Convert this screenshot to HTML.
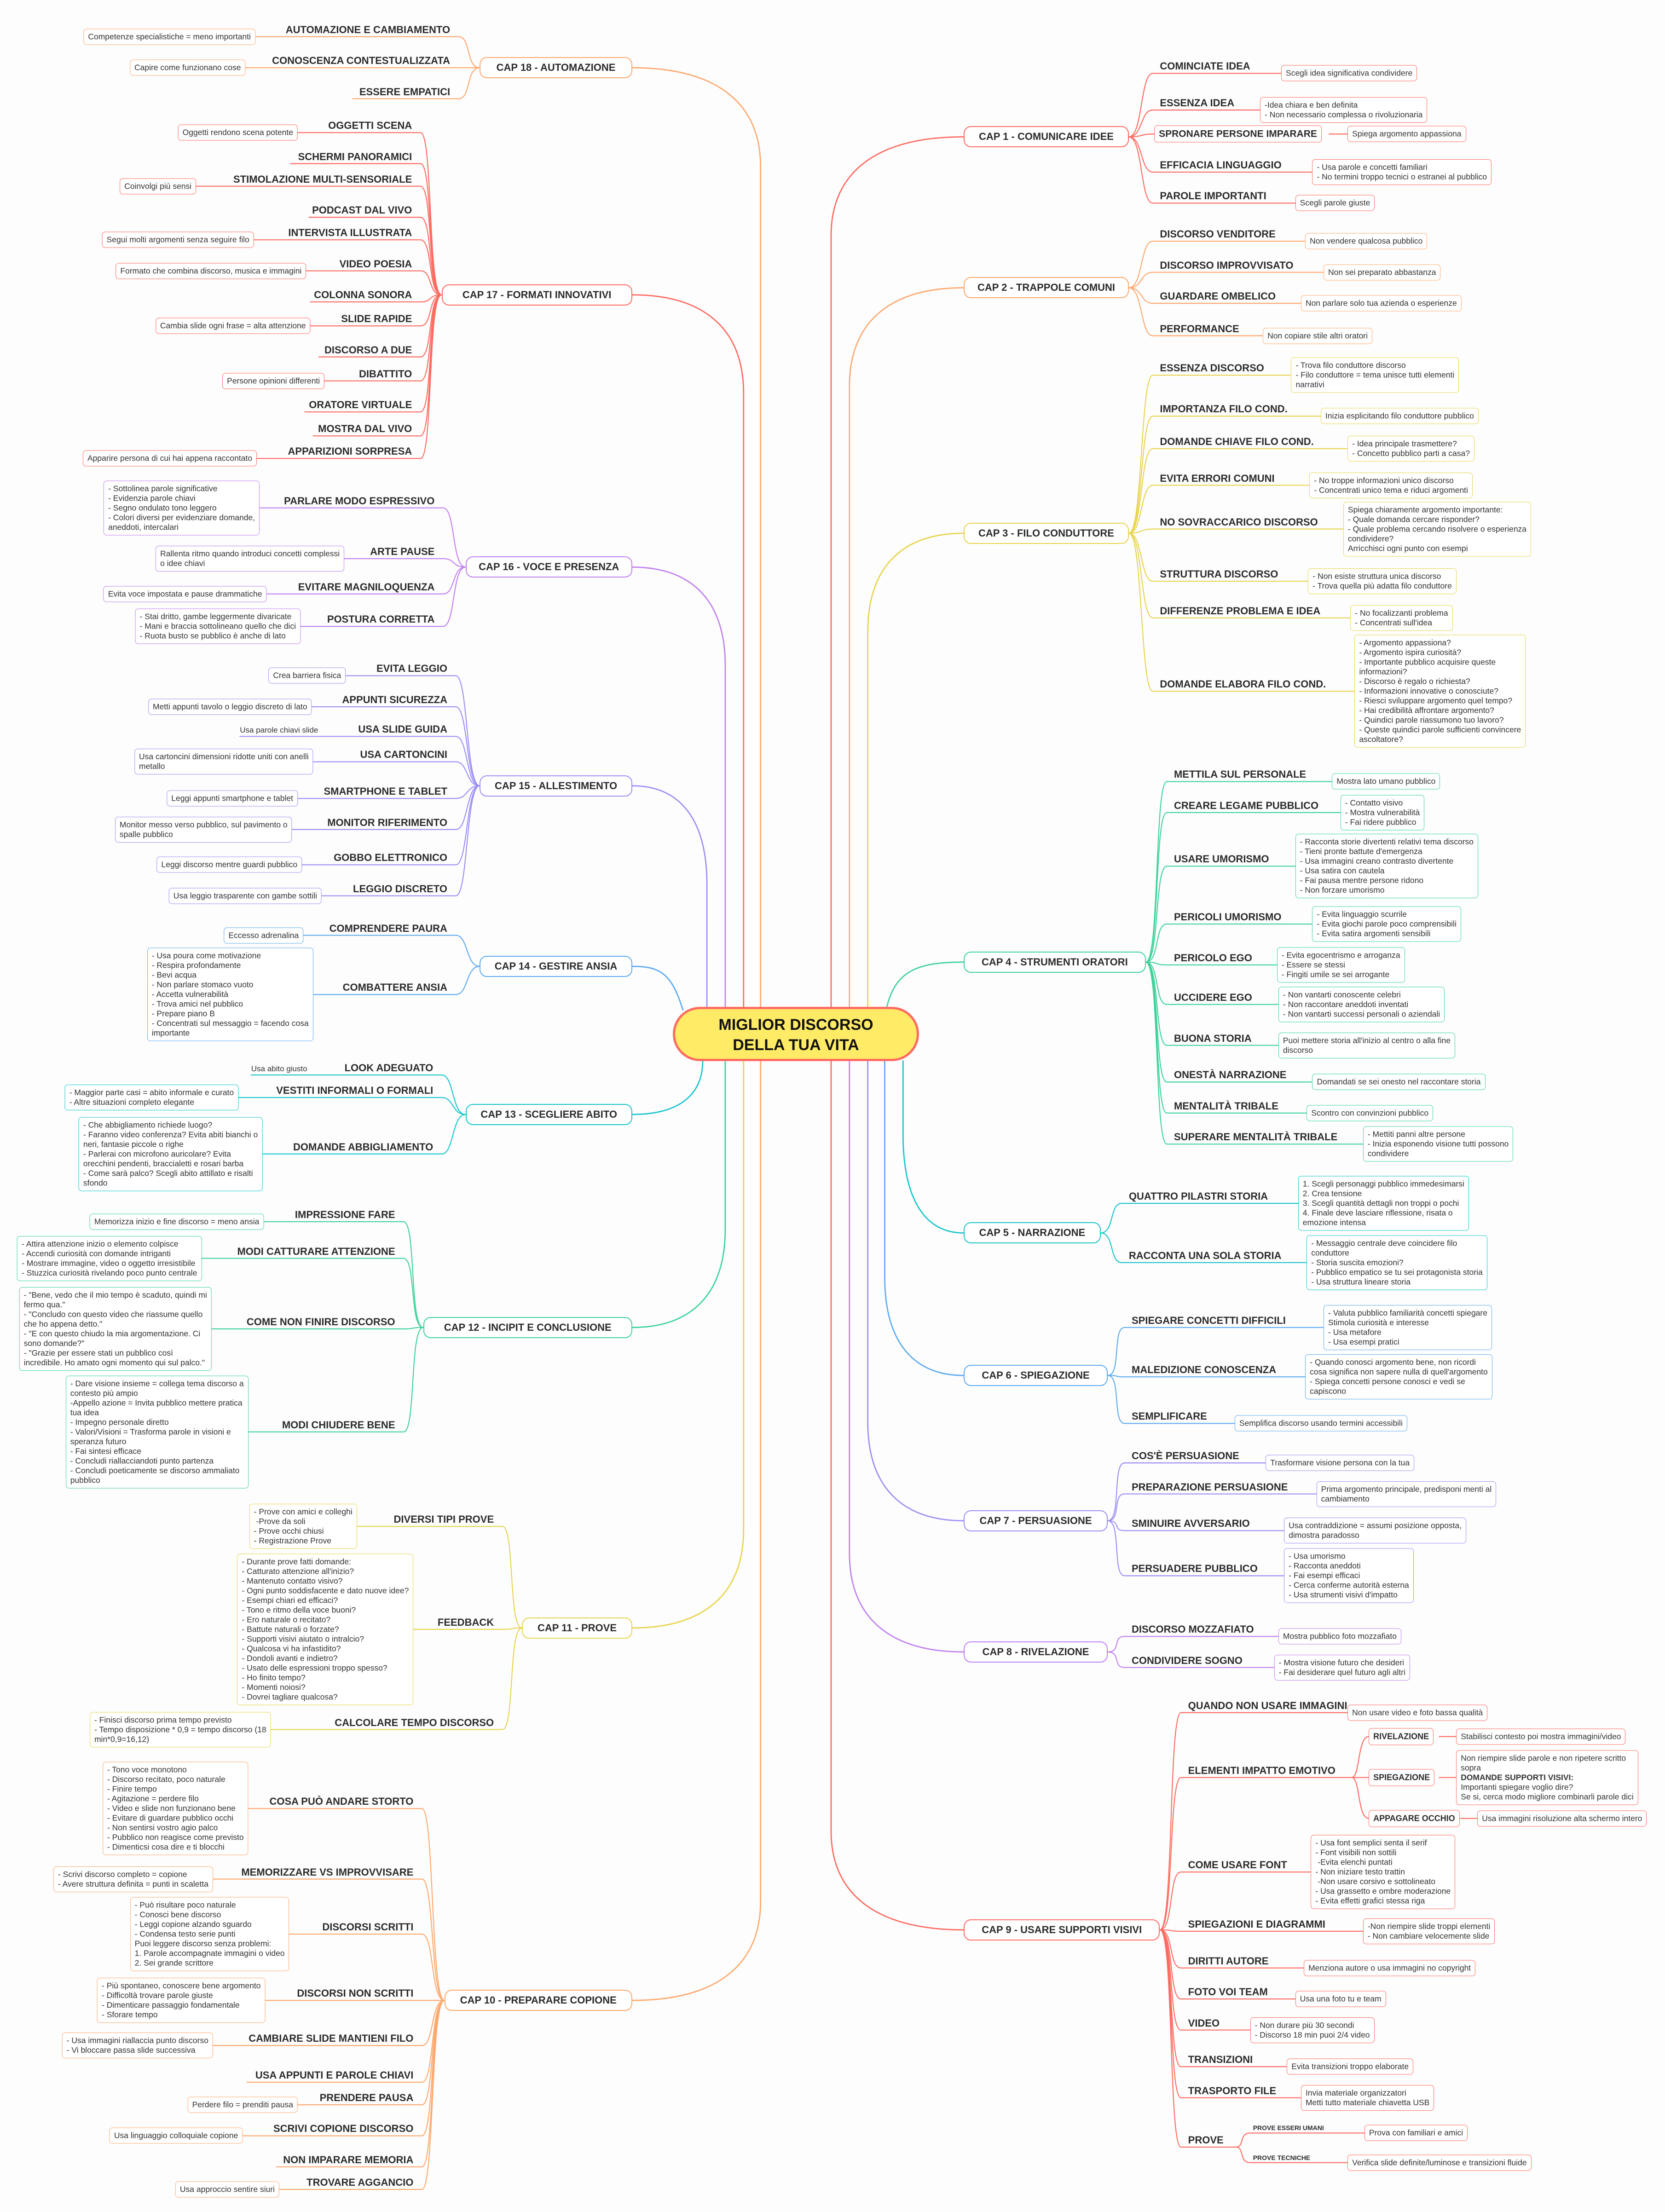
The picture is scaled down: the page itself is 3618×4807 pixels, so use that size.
<!DOCTYPE html>
<html><head><meta charset="utf-8">
<style>
body{margin:0;background:#fdfdfd}
#c{position:relative;width:3618px;height:4807px;background:#fdfdfd;overflow:hidden;font-family:"Liberation Sans",sans-serif;color:#333}
svg{position:absolute;left:0;top:0}
.a{position:absolute;left:calc(var(--x)*3.0661px);top:calc(var(--y)*3.0657px);white-space:nowrap}
.lf{border:1.8px solid var(--c);border-radius:7px;background:#fff;font-size:17.5px;line-height:21px;padding:6px 9px;transform:translateY(-50%)}
.lf.L{transform:translate(-100%,-50%)}
.lb{font-weight:bold;font-size:22px;line-height:24px;transform:translateY(-100%);padding-bottom:3px;color:#2b2b2b}
.lb.L{transform:translate(-100%,-100%)}
.pt{font-size:17px;line-height:20px;transform:translateY(-100%);padding-bottom:3px}
.sm{font-weight:bold;font-size:14px;line-height:16px;transform:translateY(-100%);padding-bottom:3px;color:#2b2b2b}
.ch{border:2.4px solid var(--c);border-radius:16px;background:#fff;font-weight:bold;font-size:22px;height:46px;line-height:42px;text-align:center;width:calc(var(--w)*3.0661px);transform:translateY(-50%);color:#2b2b2b;box-sizing:border-box}
.sb{border:1.8px solid var(--c);border-radius:7px;background:#fff;font-weight:bold;font-size:18px;line-height:21px;padding:7px 9px;transform:translateY(-50%);color:#2b2b2b}
.root{position:absolute;left:1462px;top:2188px;width:535px;height:118px;box-sizing:border-box;border:5px solid #ff6b61;border-radius:60px;background:#ffeb66;text-align:center;font-weight:bold;font-size:34px;line-height:44px;padding-top:12px;color:#111}
</style></head><body><div id="c">
<svg id="s" width="3618" height="4807" viewBox="0 0 1180 1568" preserveAspectRatio="none"></svg>

<div class="root">MIGLIOR DISCORSO<br>DELLA TUA VITA</div>

<!-- CAP 1 -->
<div style="--c:#ff6b61">
<div class="a ch" style="--x:683;--y:97;--w:117">CAP 1 - COMUNICARE IDEE</div>
<div class="a lb" style="--x:822;--y:52">COMINCIATE IDEA</div>
<div class="a lf" style="--x:908;--y:52">Scegli idea significativa condividere</div>
<div class="a lb" style="--x:822;--y:78">ESSENZA IDEA</div>
<div class="a lf" style="--x:893;--y:78">-Idea chiara e ben definita<br>- Non necessario complessa o rivoluzionaria</div>
<div class="a sb" style="--x:818;--y:95;font-size:21px">SPRONARE PERSONE IMPARARE</div>
<div class="a lf" style="--x:955;--y:95">Spiega argomento appassiona</div>
<div class="a lb" style="--x:822;--y:122">EFFICACIA LINGUAGGIO</div>
<div class="a lf" style="--x:930;--y:122">- Usa parole e concetti familiari<br>- No termini troppo tecnici o estranei al pubblico</div>
<div class="a lb" style="--x:822;--y:144">PAROLE IMPORTANTI</div>
<div class="a lf" style="--x:918;--y:144">Scegli parole giuste</div>
</div>

<!-- CAP 2 -->
<div style="--c:#ffa86e">
<div class="a ch" style="--x:683;--y:204;--w:117">CAP 2 - TRAPPOLE COMUNI</div>
<div class="a lb" style="--x:822;--y:171">DISCORSO VENDITORE</div>
<div class="a lf" style="--x:925;--y:171">Non vendere qualcosa pubblico</div>
<div class="a lb" style="--x:822;--y:193">DISCORSO IMPROVVISATO</div>
<div class="a lf" style="--x:938;--y:193">Non sei preparato abbastanza</div>
<div class="a lb" style="--x:822;--y:215">GUARDARE OMBELICO</div>
<div class="a lf" style="--x:922;--y:215">Non parlare solo tua azienda o esperienze</div>
<div class="a lb" style="--x:822;--y:238">PERFORMANCE</div>
<div class="a lf" style="--x:895;--y:238">Non copiare stile altri oratori</div>
</div>

<!-- CAP 3 -->
<div style="--c:#e8d44d">
<div class="a ch" style="--x:683;--y:378;--w:117">CAP 3 - FILO CONDUTTORE</div>
<div class="a lb" style="--x:822;--y:266">ESSENZA DISCORSO</div>
<div class="a lf" style="--x:915;--y:266">- Trova filo conduttore discorso<br>- Filo conduttore = tema unisce tutti elementi<br>narrativi</div>
<div class="a lb" style="--x:822;--y:295">IMPORTANZA FILO COND.</div>
<div class="a lf" style="--x:936;--y:295">Inizia esplicitando filo conduttore pubblico</div>
<div class="a lb" style="--x:822;--y:318">DOMANDE CHIAVE FILO COND.</div>
<div class="a lf" style="--x:955;--y:318">- Idea principale trasmettere?<br>- Concetto pubblico parti a casa?</div>
<div class="a lb" style="--x:822;--y:344">EVITA ERRORI COMUNI</div>
<div class="a lf" style="--x:928;--y:344">- No troppe informazioni unico discorso<br>- Concentrati unico tema e riduci argomenti</div>
<div class="a lb" style="--x:822;--y:375">NO SOVRACCARICO DISCORSO</div>
<div class="a lf" style="--x:952;--y:375">Spiega chiaramente argomento importante:<br>- Quale domanda cercare risponder?<br>- Quale problema cercando risolvere o esperienza<br>condividere?<br>Arricchisci ogni punto con esempi</div>
<div class="a lb" style="--x:822;--y:412">STRUTTURA DISCORSO</div>
<div class="a lf" style="--x:927;--y:412">- Non esiste struttura unica discorso<br>- Trova quella più adatta filo conduttore</div>
<div class="a lb" style="--x:822;--y:438">DIFFERENZE PROBLEMA E IDEA</div>
<div class="a lf" style="--x:957;--y:438">- No focalizzanti problema<br>- Concentrati sull'idea</div>
<div class="a lb" style="--x:822;--y:490">DOMANDE ELABORA FILO COND.</div>
<div class="a lf" style="--x:960;--y:490">- Argomento appassiona?<br>- Argomento ispira curiosità?<br>- Importante pubblico acquisire queste<br>informazioni?<br>- Discorso è regalo o richiesta?<br>- Informazioni innovative o conosciute?<br>- Riesci sviluppare argomento quel tempo?<br>- Hai credibilità affrontare argomento?<br>- Quindici parole riassumono tuo lavoro?<br>- Queste quindici parole sufficienti convincere<br>ascoltatore?</div>
</div>

<!-- CAP 4 -->
<div style="--c:#3dd39b">
<div class="a ch" style="--x:683;--y:682;--w:129">CAP 4 - STRUMENTI ORATORI</div>
<div class="a lb" style="--x:832;--y:554">METTILA SUL PERSONALE</div>
<div class="a lf" style="--x:944;--y:554">Mostra lato umano pubblico</div>
<div class="a lb" style="--x:832;--y:576">CREARE LEGAME PUBBLICO</div>
<div class="a lf" style="--x:950;--y:576">- Contatto visivo<br>- Mostra vulnerabilità<br>- Fai ridere pubblico</div>
<div class="a lb" style="--x:832;--y:614">USARE UMORISMO</div>
<div class="a lf" style="--x:918;--y:614">- Racconta storie divertenti relativi tema discorso<br>- Tieni pronte battute d'emergenza<br>- Usa immagini creano contrasto divertente<br>- Usa satira con cautela<br>- Fai pausa mentre persone ridono<br>- Non forzare umorismo</div>
<div class="a lb" style="--x:832;--y:655">PERICOLI UMORISMO</div>
<div class="a lf" style="--x:930;--y:655">- Evita linguaggio scurrile<br>- Evita giochi parole poco comprensibili<br>- Evita satira argomenti sensibili</div>
<div class="a lb" style="--x:832;--y:684">PERICOLO EGO</div>
<div class="a lf" style="--x:905;--y:684">- Evita egocentrismo e arroganza<br>- Essere se stessi<br>- Fingiti umile se sei arrogante</div>
<div class="a lb" style="--x:832;--y:712">UCCIDERE EGO</div>
<div class="a lf" style="--x:906;--y:712">- Non vantarti conoscente celebri<br>- Non raccontare aneddoti inventati<br>- Non vantarti successi personali o aziendali</div>
<div class="a lb" style="--x:832;--y:741">BUONA STORIA</div>
<div class="a lf" style="--x:906;--y:741">Puoi mettere storia all'inizio al centro o alla fine<br>discorso</div>
<div class="a lb" style="--x:832;--y:767">ONESTÀ NARRAZIONE</div>
<div class="a lf" style="--x:930;--y:767">Domandati se sei onesto nel raccontare storia</div>
<div class="a lb" style="--x:832;--y:789">MENTALITÀ TRIBALE</div>
<div class="a lf" style="--x:926;--y:789">Scontro con convinzioni pubblico</div>
<div class="a lb" style="--x:832;--y:811">SUPERARE MENTALITÀ TRIBALE</div>
<div class="a lf" style="--x:966;--y:811">- Mettiti panni altre persone<br>- Inizia esponendo visione tutti possono<br>condividere</div>
</div>

<!-- CAP 5 -->
<div style="--c:#17c5cc">
<div class="a ch" style="--x:683;--y:874;--w:97">CAP 5 - NARRAZIONE</div>
<div class="a lb" style="--x:800;--y:853">QUATTRO PILASTRI STORIA</div>
<div class="a lf" style="--x:920;--y:853">1. Scegli personaggi pubblico immedesimarsi<br>2. Crea tensione<br>3. Scegli quantità dettagli non troppi o pochi<br>4. Finale deve lasciare riflessione, risata o<br>emozione intensa</div>
<div class="a lb" style="--x:800;--y:895">RACCONTA UNA SOLA STORIA</div>
<div class="a lf" style="--x:926;--y:895">- Messaggio centrale deve coincidere filo<br>conduttore<br>- Storia suscita emozioni?<br>- Pubblico empatico se tu sei protagonista storia<br>- Usa struttura lineare storia</div>
</div>

<!-- CAP 6 -->
<div style="--c:#5eaaf0">
<div class="a ch" style="--x:683;--y:975;--w:102">CAP 6 - SPIEGAZIONE</div>
<div class="a lb" style="--x:802;--y:941">SPIEGARE CONCETTI DIFFICILI</div>
<div class="a lf" style="--x:938;--y:941">- Valuta pubblico familiarità concetti spiegare<br>Stimola curiosità e interesse<br>- Usa metafore<br>- Usa esempi pratici</div>
<div class="a lb" style="--x:802;--y:976">MALEDIZIONE CONOSCENZA</div>
<div class="a lf" style="--x:925;--y:976">- Quando conosci argomento bene, non ricordi<br>cosa significa non sapere nulla di quell'argomento<br>- Spiega concetti persone conosci e vedi se<br>capiscono</div>
<div class="a lb" style="--x:802;--y:1009">SEMPLIFICARE</div>
<div class="a lf" style="--x:875;--y:1009">Semplifica discorso usando termini accessibili</div>
</div>

<!-- CAP 7 -->
<div style="--c:#9b8ff5">
<div class="a ch" style="--x:683;--y:1078;--w:102">CAP 7 - PERSUASIONE</div>
<div class="a lb" style="--x:802;--y:1037">COS'È PERSUASIONE</div>
<div class="a lf" style="--x:897;--y:1037">Trasformare visione persona con la tua</div>
<div class="a lb" style="--x:802;--y:1059">PREPARAZIONE PERSUASIONE</div>
<div class="a lf" style="--x:933;--y:1059">Prima argomento principale, predisponi menti al<br>cambiamento</div>
<div class="a lb" style="--x:802;--y:1085">SMINUIRE AVVERSARIO</div>
<div class="a lf" style="--x:910;--y:1085">Usa contraddizione = assumi posizione opposta,<br>dimostra paradosso</div>
<div class="a lb" style="--x:802;--y:1117">PERSUADERE PUBBLICO</div>
<div class="a lf" style="--x:910;--y:1117">- Usa umorismo<br>- Racconta aneddoti<br>- Fai esempi efficaci<br>- Cerca conferme autorità esterna<br>- Usa strumenti visivi d'impatto</div>
</div>

<!-- CAP 8 -->
<div style="--c:#c180f0">
<div class="a ch" style="--x:683;--y:1171;--w:102">CAP 8 - RIVELAZIONE</div>
<div class="a lb" style="--x:802;--y:1160">DISCORSO MOZZAFIATO</div>
<div class="a lf" style="--x:906;--y:1160">Mostra pubblico foto mozzafiato</div>
<div class="a lb" style="--x:802;--y:1182">CONDIVIDERE SOGNO</div>
<div class="a lf" style="--x:903;--y:1182">- Mostra visione futuro che desideri<br>- Fai desiderare quel futuro agli altri</div>
</div>

<!-- CAP 9 -->
<div style="--c:#ff6b61">
<div class="a ch" style="--x:683;--y:1368;--w:139">CAP 9 - USARE SUPPORTI VISIVI</div>
<div class="a lb" style="--x:842;--y:1214">QUANDO NON USARE IMMAGINI</div>
<div class="a lf" style="--x:955;--y:1214">Non usare video e foto bassa qualità</div>
<div class="a lb" style="--x:842;--y:1260">ELEMENTI IMPATTO EMOTIVO</div>
<div class="a sb" style="--x:970;--y:1231">RIVELAZIONE</div>
<div class="a lf" style="--x:1032;--y:1231">Stabilisci contesto poi mostra immagini/video</div>
<div class="a sb" style="--x:970;--y:1260">SPIEGAZIONE</div>
<div class="a lf" style="--x:1032;--y:1260">Non riempire slide parole e non ripetere scritto<br>sopra<br><b>DOMANDE SUPPORTI VISIVI:</b><br>Importanti spiegare voglio dire?<br>Se si, cerca modo migliore combinarli parole dici</div>
<div class="a sb" style="--x:970;--y:1289">APPAGARE OCCHIO</div>
<div class="a lf" style="--x:1047;--y:1289">Usa immagini risoluzione alta schermo intero</div>
<div class="a lb" style="--x:842;--y:1327">COME USARE FONT</div>
<div class="a lf" style="--x:929;--y:1327">- Usa font semplici senta il serif<br>- Font visibili non sottili<br>&nbsp;-Evita elenchi puntati<br>- Non iniziare testo trattin<br>&nbsp;-Non usare corsivo e sottolineato<br>- Usa grassetto e ombre moderazione<br>- Evita effetti grafici stessa riga</div>
<div class="a lb" style="--x:842;--y:1369">SPIEGAZIONI E DIAGRAMMI</div>
<div class="a lf" style="--x:966;--y:1369">-Non riempire slide troppi elementi<br>- Non cambiare velocemente slide</div>
<div class="a lb" style="--x:842;--y:1395">DIRITTI AUTORE</div>
<div class="a lf" style="--x:924;--y:1395">Menziona autore o usa immagini no copyright</div>
<div class="a lb" style="--x:842;--y:1417">FOTO VOI TEAM</div>
<div class="a lf" style="--x:918;--y:1417">Usa una foto tu e team</div>
<div class="a lb" style="--x:842;--y:1439">VIDEO</div>
<div class="a lf" style="--x:886;--y:1439">- Non durare più 30 secondi<br>- Discorso 18 min puoi 2/4 video</div>
<div class="a lb" style="--x:842;--y:1465">TRANSIZIONI</div>
<div class="a lf" style="--x:912;--y:1465">Evita transizioni troppo elaborate</div>
<div class="a lb" style="--x:842;--y:1487">TRASPORTO FILE</div>
<div class="a lf" style="--x:922;--y:1487">Invia materiale organizzatori<br>Metti tutto materiale chiavetta USB</div>
<div class="a lb" style="--x:842;--y:1522">PROVE</div>
<div class="a sm" style="--x:888;--y:1512">PROVE ESSERI UMANI</div>
<div class="a lf" style="--x:967;--y:1512">Prova con familiari e amici</div>
<div class="a sm" style="--x:888;--y:1533">PROVE TECNICHE</div>
<div class="a lf" style="--x:955;--y:1533">Verifica slide definite/luminose e transizioni fluide</div>
</div>

<!-- CAP 18 -->
<div style="--c:#ffa86e">
<div class="a ch" style="--x:340;--y:48;--w:108">CAP 18 - AUTOMAZIONE</div>
<div class="a lb L" style="--x:319;--y:26">AUTOMAZIONE E CAMBIAMENTO</div>
<div class="a lf L" style="--x:181;--y:26">Competenze specialistiche = meno importanti</div>
<div class="a lb L" style="--x:319;--y:48">CONOSCENZA CONTESTUALIZZATA</div>
<div class="a lf L" style="--x:174;--y:48">Capire come funzionano cose</div>
<div class="a lb L" style="--x:319;--y:70">ESSERE EMPATICI</div>
</div>

<!-- CAP 17 -->
<div style="--c:#ff6b61">
<div class="a ch" style="--x:313;--y:209;--w:135">CAP 17 - FORMATI INNOVATIVI</div>
<div class="a lb L" style="--x:292;--y:94">OGGETTI SCENA</div>
<div class="a lf L" style="--x:211;--y:94">Oggetti rendono scena potente</div>
<div class="a lb L" style="--x:292;--y:116">SCHERMI PANORAMICI</div>
<div class="a lb L" style="--x:292;--y:132">STIMOLAZIONE MULTI-SENSORIALE</div>
<div class="a lf L" style="--x:139;--y:132">Coinvolgi più sensi</div>
<div class="a lb L" style="--x:292;--y:154">PODCAST DAL VIVO</div>
<div class="a lb L" style="--x:292;--y:170">INTERVISTA ILLUSTRATA</div>
<div class="a lf L" style="--x:180;--y:170">Segui molti argomenti senza seguire filo</div>
<div class="a lb L" style="--x:292;--y:192">VIDEO POESIA</div>
<div class="a lf L" style="--x:217;--y:192">Formato che combina discorso, musica e immagini</div>
<div class="a lb L" style="--x:292;--y:214">COLONNA SONORA</div>
<div class="a lb L" style="--x:292;--y:231">SLIDE RAPIDE</div>
<div class="a lf L" style="--x:220;--y:231">Cambia slide ogni frase = alta attenzione</div>
<div class="a lb L" style="--x:292;--y:253">DISCORSO A DUE</div>
<div class="a lb L" style="--x:292;--y:270">DIBATTITO</div>
<div class="a lf L" style="--x:230;--y:270">Persone opinioni differenti</div>
<div class="a lb L" style="--x:292;--y:292">ORATORE VIRTUALE</div>
<div class="a lb L" style="--x:292;--y:309">MOSTRA DAL VIVO</div>
<div class="a lb L" style="--x:292;--y:325">APPARIZIONI SORPRESA</div>
<div class="a lf L" style="--x:182;--y:325">Apparire persona di cui hai appena raccontato</div>
</div>

<!-- CAP 16 -->
<div style="--c:#c180f0">
<div class="a ch" style="--x:330;--y:402;--w:118">CAP 16 - VOCE E PRESENZA</div>
<div class="a lb L" style="--x:308;--y:360">PARLARE MODO ESPRESSIVO</div>
<div class="a lf L" style="--x:184;--y:360">- Sottolinea parole significative<br>- Evidenzia parole chiavi<br>- Segno ondulato tono leggero<br>- Colori diversi per evidenziare domande,<br>aneddoti, intercalari</div>
<div class="a lb L" style="--x:308;--y:396">ARTE PAUSE</div>
<div class="a lf L" style="--x:244;--y:396">Rallenta ritmo quando introduci concetti complessi<br>o idee chiavi</div>
<div class="a lb L" style="--x:308;--y:421">EVITARE MAGNILOQUENZA</div>
<div class="a lf L" style="--x:189;--y:421">Evita voce impostata e pause drammatiche</div>
<div class="a lb L" style="--x:308;--y:444">POSTURA CORRETTA</div>
<div class="a lf L" style="--x:213;--y:444">- Stai dritto, gambe leggermente divaricate<br>- Mani e braccia sottolineano quello che dici<br>- Ruota busto se pubblico è anche di lato</div>
</div>

<!-- CAP 15 -->
<div style="--c:#9b8ff5">
<div class="a ch" style="--x:340;--y:557;--w:108">CAP 15 - ALLESTIMENTO</div>
<div class="a lb L" style="--x:317;--y:479">EVITA LEGGIO</div>
<div class="a lf L" style="--x:245;--y:479">Crea barriera fisica</div>
<div class="a lb L" style="--x:317;--y:501">APPUNTI SICUREZZA</div>
<div class="a lf L" style="--x:221;--y:501">Metti appunti tavolo o leggio discreto di lato</div>
<div class="a lb L" style="--x:317;--y:522">USA SLIDE GUIDA</div>
<div class="a pt" style="--x:170;--y:522">Usa parole chiavi slide</div>
<div class="a lb L" style="--x:317;--y:540">USA CARTONCINI</div>
<div class="a lf L" style="--x:222;--y:540">Usa cartoncini dimensioni ridotte uniti con anelli<br>metallo</div>
<div class="a lb L" style="--x:317;--y:566">SMARTPHONE E TABLET</div>
<div class="a lf L" style="--x:211;--y:566">Leggi appunti smartphone e tablet</div>
<div class="a lb L" style="--x:317;--y:588">MONITOR RIFERIMENTO</div>
<div class="a lf L" style="--x:207;--y:588">Monitor messo verso pubblico, sul pavimento o<br>spalle pubblico</div>
<div class="a lb L" style="--x:317;--y:613">GOBBO ELETTRONICO</div>
<div class="a lf L" style="--x:214;--y:613">Leggi discorso mentre guardi pubblico</div>
<div class="a lb L" style="--x:317;--y:635">LEGGIO DISCRETO</div>
<div class="a lf L" style="--x:228;--y:635">Usa leggio trasparente con gambe sottili</div>
</div>

<!-- CAP 14 -->
<div style="--c:#5eaaf0">
<div class="a ch" style="--x:340;--y:685;--w:108">CAP 14 - GESTIRE ANSIA</div>
<div class="a lb L" style="--x:317;--y:663">COMPRENDERE PAURA</div>
<div class="a lf L" style="--x:215;--y:663">Eccesso adrenalina</div>
<div class="a lb L" style="--x:317;--y:705">COMBATTERE ANSIA</div>
<div class="a lf L" style="--x:222;--y:705">- Usa poura come motivazione<br>- Respira profondamente<br>- Bevi acqua<br>- Non parlare stomaco vuoto<br>- Accetta vulnerabilità<br>- Trova amici nel pubblico<br>- Prepare piano B<br>- Concentrati sul messaggio = facendo cosa<br>importante</div>
</div>

<!-- CAP 13 -->
<div style="--c:#17c5cc">
<div class="a ch" style="--x:330;--y:790;--w:118">CAP 13 - SCEGLIERE ABITO</div>
<div class="a lb L" style="--x:307;--y:762">LOOK ADEGUATO</div>
<div class="a pt" style="--x:178;--y:762">Usa abito giusto</div>
<div class="a lb L" style="--x:307;--y:778">VESTITI INFORMALI O FORMALI</div>
<div class="a lf L" style="--x:169;--y:778">- Maggior parte casi = abito informale e curato<br>- Altre situazioni completo elegante</div>
<div class="a lb L" style="--x:307;--y:818">DOMANDE ABBIGLIAMENTO</div>
<div class="a lf L" style="--x:186;--y:818">- Che abbigliamento richiede luogo?<br>- Faranno video conferenza? Evita abiti bianchi o<br>neri, fantasie piccole o righe<br>- Parlerai con microfono auricolare? Evita<br>orecchini pendenti, braccialetti e rosari barba<br>- Come sarà palco? Scegli abito attillato e risalti<br>sfondo</div>
</div>

<!-- CAP 12 -->
<div style="--c:#3dd39b">
<div class="a ch" style="--x:300;--y:941;--w:148">CAP 12 - INCIPIT E CONCLUSIONE</div>
<div class="a lb L" style="--x:280;--y:866">IMPRESSIONE FARE</div>
<div class="a lf L" style="--x:187;--y:866">Memorizza inizio e fine discorso = meno ansia</div>
<div class="a lb L" style="--x:280;--y:892">MODI CATTURARE ATTENZIONE</div>
<div class="a lf L" style="--x:143;--y:892">- Attira attenzione inizio o elemento colpisce<br>- Accendi curiosità con domande intriganti<br>- Mostrare immagine, video o oggetto irresistibile<br>- Stuzzica curiosità rivelando poco punto centrale</div>
<div class="a lb L" style="--x:280;--y:942">COME NON FINIRE DISCORSO</div>
<div class="a lf L" style="--x:150;--y:942">- "Bene, vedo che il mio tempo è scaduto, quindi mi<br>fermo qua."<br>- "Concludo con questo video che riassume quello<br>che ho appena detto."<br>- "E con questo chiudo la mia argomentazione. Ci<br>sono domande?"<br>- "Grazie per essere stati un pubblico così<br>incredibile. Ho amato ogni momento qui sul palco."</div>
<div class="a lb L" style="--x:280;--y:1015">MODI CHIUDERE BENE</div>
<div class="a lf L" style="--x:176;--y:1015">- Dare visione insieme = collega tema discorso a<br>contesto più ampio<br>-Appello azione = Invita pubblico mettere pratica<br>tua idea<br>- Impegno personale diretto<br>- Valori/Visioni = Trasforma parole in visioni e<br>speranza futuro<br>- Fai sintesi efficace<br>- Concludi riallacciandoti punto partenza<br>- Concludi poeticamente se discorso ammaliato<br>pubblico</div>
</div>

<!-- CAP 11 -->
<div style="--c:#e8d44d">
<div class="a ch" style="--x:370;--y:1154;--w:78">CAP 11 - PROVE</div>
<div class="a lb L" style="--x:350;--y:1082">DIVERSI TIPI PROVE</div>
<div class="a lf L" style="--x:253;--y:1082">- Prove con amici e colleghi<br>&nbsp;-Prove da soli<br>- Prove occhi chiusi<br>- Registrazione Prove</div>
<div class="a lb L" style="--x:350;--y:1155">FEEDBACK</div>
<div class="a lf L" style="--x:293;--y:1155">- Durante prove fatti domande:<br>- Catturato attenzione all'inizio?<br>- Mantenuto contatto visivo?<br>- Ogni punto soddisfacente e dato nuove idee?<br>- Esempi chiari ed efficaci?<br>- Tono e ritmo della voce buoni?<br>- Ero naturale o recitato?<br>- Battute naturali o forzate?<br>- Supporti visivi aiutato o intralcio?<br>- Qualcosa vi ha infastidito?<br>- Dondoli avanti e indietro?<br>- Usato delle espressioni troppo spesso?<br>- Ho finito tempo?<br>- Momenti noiosi?<br>- Dovrei tagliare qualcosa?</div>
<div class="a lb L" style="--x:350;--y:1226">CALCOLARE TEMPO DISCORSO</div>
<div class="a lf L" style="--x:192;--y:1226">- Finisci discorso prima tempo previsto<br>- Tempo disposizione * 0,9 = tempo discorso (18<br>min*0,9=16,12)</div>
</div>

<!-- CAP 10 -->
<div style="--c:#ffa86e">
<div class="a ch" style="--x:315;--y:1418;--w:133">CAP 10 - PREPARARE COPIONE</div>
<div class="a lb L" style="--x:293;--y:1282">COSA PUÒ ANDARE STORTO</div>
<div class="a lf L" style="--x:176;--y:1282">- Tono voce monotono<br>- Discorso recitato, poco naturale<br>- Finire tempo<br>- Agitazione = perdere filo<br>- Video e slide non funzionano bene<br>- Evitare di guardare pubblico occhi<br>- Non sentirsi vostro agio palco<br>- Pubblico non reagisce come previsto<br>- Dimenticsi cosa dire e ti blocchi</div>
<div class="a lb L" style="--x:293;--y:1332">MEMORIZZARE VS IMPROVVISARE</div>
<div class="a lf L" style="--x:151;--y:1332">- Scrivi discorso completo = copione<br>- Avere struttura definita = punti in scaletta</div>
<div class="a lb L" style="--x:293;--y:1371">DISCORSI SCRITTI</div>
<div class="a lf L" style="--x:205;--y:1371">- Può risultare poco naturale<br>- Conosci bene discorso<br>- Leggi copione alzando sguardo<br>- Condensa testo serie punti<br>Puoi leggere discorso senza problemi:<br>1. Parole accompagnate immagini o video<br>2. Sei grande scrittore</div>
<div class="a lb L" style="--x:293;--y:1418">DISCORSI NON SCRITTI</div>
<div class="a lf L" style="--x:188;--y:1418">- Più spontaneo, conoscere bene argomento<br>- Difficoltà trovare parole giuste<br>- Dimenticare passaggio fondamentale<br>- Sforare tempo</div>
<div class="a lb L" style="--x:293;--y:1450">CAMBIARE SLIDE MANTIENI FILO</div>
<div class="a lf L" style="--x:151;--y:1450">- Usa immagini riallaccia punto discorso<br>- Vi bloccare passa slide successiva</div>
<div class="a lb L" style="--x:293;--y:1476">USA APPUNTI E PAROLE CHIAVI</div>
<div class="a lb L" style="--x:293;--y:1492">PRENDERE PAUSA</div>
<div class="a lf L" style="--x:211;--y:1492">Perdere filo = prenditi pausa</div>
<div class="a lb L" style="--x:293;--y:1514">SCRIVI COPIONE DISCORSO</div>
<div class="a lf L" style="--x:172;--y:1514">Usa linguaggio colloquiale copione</div>
<div class="a lb L" style="--x:293;--y:1536">NON IMPARARE MEMORIA</div>
<div class="a lb L" style="--x:293;--y:1552">TROVARE AGGANCIO</div>
<div class="a lf L" style="--x:198;--y:1552">Usa approccio sentire siuri</div>
</div>

</div>
<script>
(function(){
var s=document.getElementById('s'),out='';
function P(d,c,w){out+='<path d="'+d+'" stroke="'+c+'" stroke-width="'+w+'" fill="none" stroke-linecap="round"/>';}
var RED='#ff6b61',OR='#ffa86e',YE='#e8d44d',GR='#3dd39b',TE='#17c5cc',BL='#5eaaf0',BP='#9b8ff5',PU='#c180f0';
var R=[[RED,117,97,820,[[52,908],[78,893],[95,818],[122,930],[144,918]]],
[OR,117,204,820,[[171,925],[193,938],[215,922],[238,895]]],
[YE,117,378,820,[[266,915],[295,936],[318,955],[344,928],[375,952],[412,927],[438,957],[490,960]]],
[GR,129,682,830,[[554,944],[576,950],[614,918],[655,930],[684,905],[712,906],[741,906],[767,930],[789,926],[811,966]]],
[TE,97,874,798,[[853,920],[895,926]]],
[BL,102,975,800,[[941,938],[976,925],[1009,875]]],
[BP,102,1078,800,[[1037,897],[1059,933],[1085,910],[1117,910]]],
[PU,102,1171,800,[[1160,906],[1182,903]]],
[RED,139,1368,840,[[1214,955],[1260,958],[1327,929],[1369,966],[1395,924],[1417,918],[1439,886],[1465,912],[1487,922],[1522,876]]]];
R.forEach(function(r){var sx=683+r[1],cy=r[2],lx=r[3];r[4].forEach(function(it){var uy=it[0],ex=it[1];
P('M'+sx+' '+cy+'C'+(sx+10)+' '+cy+' '+(lx-12)+' '+uy+' '+(lx-3)+' '+uy+'L'+ex+' '+uy,r[0],0.7);});});
var L=[[OR,108,48,322,[[26,181],[48,174],[70,250]]],
[RED,135,209,295,[[94,211],[116,206],[132,139],[154,219],[170,180],[192,217],[214,220],[231,220],[253,226],[270,230],[292,216],[309,222],[325,182]]],
[PU,118,402,311,[[360,184],[396,244],[421,189],[444,213]]],
[BP,108,557,320,[[479,245],[501,221],[522,170],[540,222],[566,211],[588,207],[613,214],[635,228]]],
[BL,108,685,320,[[663,215],[705,222]]],
[TE,118,790,310,[[762,178],[778,169],[818,186]]],
[GR,148,941,283,[[866,187],[892,143],[942,150],[1015,176]]],
[YE,78,1154,353,[[1082,253],[1155,293],[1226,192]]],
[OR,133,1418,296,[[1282,176],[1332,151],[1371,205],[1418,188],[1450,151],[1476,175],[1492,211],[1514,172],[1536,196],[1552,198]]]];
L.forEach(function(r){var sx=448-r[1],cy=r[2],lx=r[3];r[4].forEach(function(it){var uy=it[0],ex=it[1];
P('M'+sx+' '+cy+'C'+(sx-10)+' '+cy+' '+(lx+12)+' '+uy+' '+(lx+3)+' '+uy+'L'+ex+' '+uy,r[0],0.7);});});
P('M942 95L955 95',RED,0.7);
[[1231,1032,1020],[1260,1032,1020],[1289,1047,1035]].forEach(function(a){
P('M958 1260C964 1260 962 '+a[0]+' 970 '+a[0],RED,0.7);P('M'+a[2]+' '+a[0]+'L'+a[1]+' '+a[0],RED,0.7);});
P('M876 1522C882 1522 878 1512 886 1512L967 1512',RED,0.7);
P('M876 1522C882 1522 878 1533 886 1533L955 1533',RED,0.7);
function rr(sx,ty,c,right){var ey=ty<733?714:752,end=right?683:448,d=Math.min(70,Math.abs(ey-ty)),k=ty<ey?ty+d:ty-d;
P('M'+sx+' '+ey+'L'+sx+' '+k+'C'+sx+' '+(ty<ey?ty+d*0.35:ty-d*0.35)+' '+(sx+(end-sx)*0.35)+' '+ty+' '+end+' '+ty,c,0.9);}
rr(589,97,RED,1);rr(602,204,OR,1);rr(615,378,YE,1);rr(640,874,TE,1);rr(627,975,BL,1);rr(615,1078,BP,1);rr(602,1171,PU,1);rr(589,1368,RED,1);
P('M628 716C634 688 650 682 683 682',GR,0.9);
rr(539,48,OR,0);rr(527,209,RED,0);rr(514,402,PU,0);rr(501,557,BP,0);rr(498,790,TE,0);rr(514,941,GR,0);rr(527,1154,YE,0);rr(539,1418,OR,0);
P('M484 716C476 690 468 685 448 685',BL,0.9);
s.innerHTML=out;
})();
</script>
</body></html>
